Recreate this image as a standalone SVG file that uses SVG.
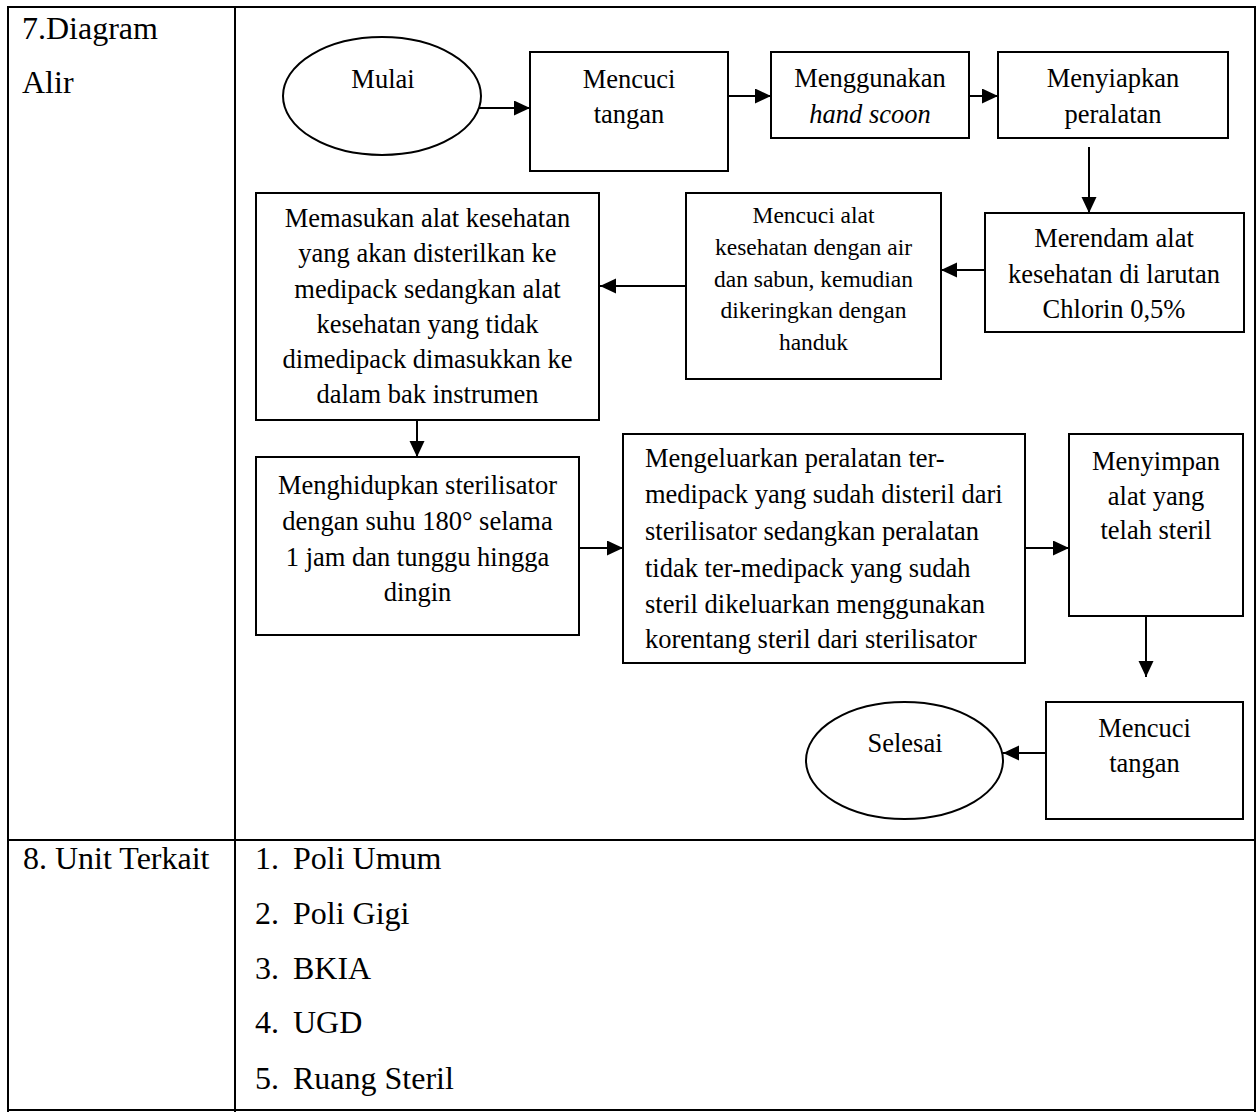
<svg xmlns="http://www.w3.org/2000/svg" width="1257" height="1112" viewBox="0 0 1257 1112">
<style>
  .tbl { stroke:#000; stroke-width:2; fill:none; }
  .box { stroke:#000; stroke-width:2; fill:#fff; }
  .conn { stroke:#000; stroke-width:2; fill:none; marker-end:url(#arrow); }
  text { font-family:"Liberation Serif","Times New Roman",serif; fill:#000; }
  .t { font-size:26.5px; text-anchor:middle; }
  .ts { font-size:23.5px; text-anchor:middle; }
  .tl { font-size:26.5px; }
  .big { font-size:32px; }
</style>
<defs>
  <marker id="arrow" markerUnits="userSpaceOnUse" markerWidth="17" markerHeight="16" refX="16" refY="7.5" orient="auto">
    <path d="M0,0 L16,7.5 L0,15 z" fill="#000"/>
  </marker>
</defs>
<rect width="1257" height="1112" fill="#fff"/>
<g id="table">
  <line class="tbl" x1="7" y1="7" x2="1256" y2="7"/>
  <line class="tbl" x1="8" y1="6" x2="8" y2="1112"/>
  <line class="tbl" x1="235" y1="6" x2="235" y2="1112"/>
  <line class="tbl" x1="1255" y1="6" x2="1255" y2="1112"/>
  <line class="tbl" x1="7" y1="840" x2="1256" y2="840"/>
  <line class="tbl" x1="7" y1="1110" x2="1256" y2="1110"/>
  <text class="big" x="22" y="39">7.Diagram</text>
  <text class="big" x="22" y="93">Alir</text>
  <text class="big" x="23" y="869">8. Unit Terkait</text>
  <g id="units">
    <text class="big" x="255" y="869">1.</text><text class="big" x="293" y="869">Poli Umum</text>
    <text class="big" x="255" y="924">2.</text><text class="big" x="293" y="924">Poli Gigi</text>
    <text class="big" x="255" y="979">3.</text><text class="big" x="293" y="979">BKIA</text>
    <text class="big" x="255" y="1033">4.</text><text class="big" x="293" y="1033">UGD</text>
    <text class="big" x="255" y="1089">5.</text><text class="big" x="293" y="1089">Ruang Steril</text>
  </g>
</g>
<g id="connectors">
  <path class="conn" d="M479,108 H530"/>
  <path class="conn" d="M728,96 H771"/>
  <path class="conn" d="M969,96 H998"/>
  <path class="conn" d="M1089,147 V213"/>
  <path class="conn" d="M985,270 H941"/>
  <path class="conn" d="M686,286 H600"/>
  <path class="conn" d="M417,420 V457"/>
  <path class="conn" d="M579,548 H623"/>
  <path class="conn" d="M1025,548 H1069"/>
  <path class="conn" d="M1146,616 V677"/>
  <path class="conn" d="M1046,753 H1003"/>
</g>
<g id="mulai">
  <ellipse class="box" cx="382" cy="96" rx="99" ry="59"/>
  <text class="t" x="383" y="88">Mulai</text>
</g>
<g id="mencuci-tangan-1">
  <rect class="box" x="530" y="52" width="198" height="119"/>
  <text class="t" x="629" y="88">Mencuci</text>
  <text class="t" x="629" y="123">tangan</text>
</g>
<g id="menggunakan">
  <rect class="box" x="771" y="52" width="198" height="86"/>
  <text class="t" x="870" y="87">Menggunakan</text>
  <text class="t" x="870" y="123" font-style="italic">hand scoon</text>
</g>
<g id="menyiapkan">
  <rect class="box" x="998" y="52" width="230" height="86"/>
  <text class="t" x="1113" y="87">Menyiapkan</text>
  <text class="t" x="1113" y="123">peralatan</text>
</g>
<g id="merendam">
  <rect class="box" x="985" y="213" width="259" height="119"/>
  <text class="t" x="1114" y="247">Merendam alat</text>
  <text class="t" x="1114" y="283">kesehatan di larutan</text>
  <text class="t" x="1114" y="318">Chlorin 0,5%</text>
</g>
<g id="mencuci-alat">
  <rect class="box" x="686" y="193" width="255" height="186"/>
  <text class="ts" x="813.5" y="223">Mencuci alat</text>
  <text class="ts" x="813.5" y="255">kesehatan dengan air</text>
  <text class="ts" x="813.5" y="287">dan sabun, kemudian</text>
  <text class="ts" x="813.5" y="318">dikeringkan dengan</text>
  <text class="ts" x="813.5" y="350">handuk</text>
</g>
<g id="memasukan">
  <rect class="box" x="256" y="193" width="343" height="227"/>
  <text class="t" x="427.5" y="227">Memasukan alat kesehatan</text>
  <text class="t" x="427.5" y="262">yang akan disterilkan ke</text>
  <text class="t" x="427.5" y="298">medipack sedangkan alat</text>
  <text class="t" x="427.5" y="333">kesehatan yang tidak</text>
  <text class="t" x="427.5" y="368">dimedipack dimasukkan ke</text>
  <text class="t" x="427.5" y="403">dalam bak instrumen</text>
</g>
<g id="menghidupkan">
  <rect class="box" x="256" y="457" width="323" height="178"/>
  <text class="t" x="417.5" y="494">Menghidupkan sterilisator</text>
  <text class="t" x="417.5" y="530">dengan suhu 180° selama</text>
  <text class="t" x="417.5" y="566">1 jam dan tunggu hingga</text>
  <text class="t" x="417.5" y="601">dingin</text>
</g>
<g id="mengeluarkan">
  <rect class="box" x="623" y="434" width="402" height="229"/>
  <text class="tl" x="645" y="467">Mengeluarkan peralatan ter-</text>
  <text class="tl" x="645" y="503">medipack yang sudah disteril dari</text>
  <text class="tl" x="645" y="540">sterilisator sedangkan peralatan</text>
  <text class="tl" x="645" y="577">tidak ter-medipack yang sudah</text>
  <text class="tl" x="645" y="613">steril dikeluarkan menggunakan</text>
  <text class="tl" x="645" y="648">korentang steril dari sterilisator</text>
</g>
<g id="menyimpan">
  <rect class="box" x="1069" y="434" width="174" height="182"/>
  <text class="t" x="1156" y="470">Menyimpan</text>
  <text class="t" x="1156" y="505">alat yang</text>
  <text class="t" x="1156" y="539">telah steril</text>
</g>
<g id="mencuci-tangan-2">
  <rect class="box" x="1046" y="702" width="197" height="117"/>
  <text class="t" x="1144.5" y="737">Mencuci</text>
  <text class="t" x="1144.5" y="772">tangan</text>
</g>
<g id="selesai">
  <ellipse class="box" cx="904.5" cy="760.5" rx="98.5" ry="58.5"/>
  <text class="t" x="905" y="752">Selesai</text>
</g>
</svg>
